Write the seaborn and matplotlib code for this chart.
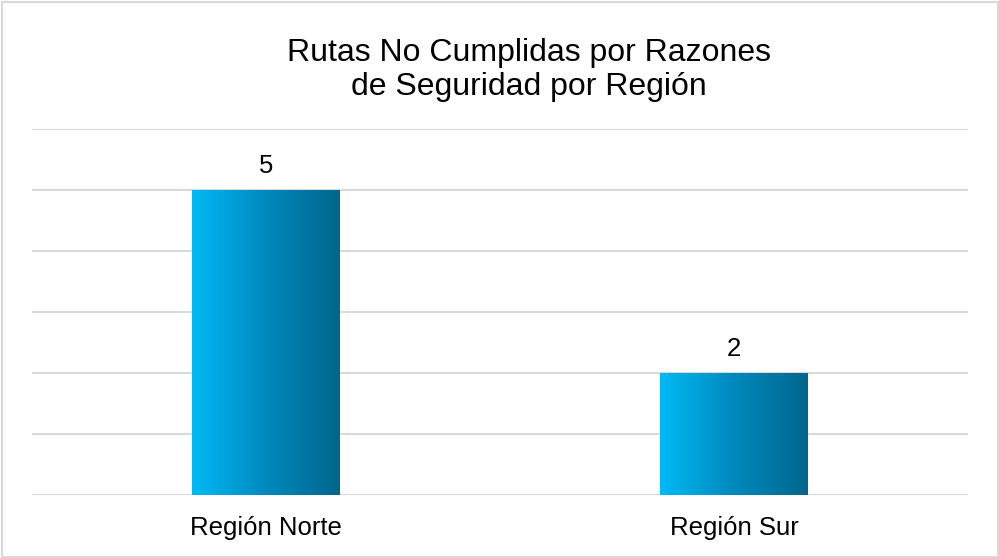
import matplotlib
matplotlib.use("Agg")
import matplotlib.pyplot as plt
import matplotlib.colors as mcolors
from matplotlib.patches import Rectangle
import seaborn as sns
import numpy as np
import pandas as pd

# -----------------------------------
# Data
# -----------------------------------
regiones = ["Región Norte", "Región Sur"]
rutas = [5, 2]
titulo = "Rutas No Cumplidas por Razones\nde Seguridad por Región"

df = pd.DataFrame({"region": regiones, "rutas": rutas})

# -----------------------------------
# Figure
# -----------------------------------
sns.set_style("white")
plt.rcParams["font.family"] = ["Liberation Sans", "DejaVu Sans"]
plt.rcParams["text.color"] = "#000000"

fig = plt.figure(figsize=(9.99, 5.58), dpi=100)
ax = fig.add_axes([32 / 999, 63 / 558, 936 / 999, 366 / 558])

sns.barplot(data=df, x="region", y="rutas", width=0.316, color="#0099CC", ax=ax)

# gradient fill for each bar
cmap = mcolors.LinearSegmentedColormap.from_list("grad", ["#00BAF5", "#0089BE", "#00668C"])
grad = np.linspace(0, 1, 256).reshape(1, -1)
for bar in ax.patches:
    x0, y0 = bar.get_x(), bar.get_y()
    w, h = bar.get_width(), bar.get_height()
    bar.set_facecolor("none")
    bar.set_edgecolor("none")
    im = ax.imshow(grad, cmap=cmap, aspect="auto", extent=[x0, x0 + w, y0, y0 + h], zorder=3)
    im.set_clip_path(bar)
    ax.text(x0 + w / 2, y0 + h + 0.39, f"{h:.0f}", ha="center", va="center", fontsize=18.5, color="#000000")

ax.set_xlim(-0.5, 1.5)
ax.set_ylim(0, 6)
ax.set_yticks(range(0, 7))
ax.yaxis.grid(True, color="#D9D9D9", linewidth=1.5)
ax.set_axisbelow(True)
ax.set_yticklabels([])
ax.tick_params(axis="y", length=0)
ax.tick_params(axis="x", length=0, labelsize=18.5, pad=15, colors="#000000")
ax.set_xlabel("")
ax.set_ylabel("")
for s in ["left", "right", "top", "bottom"]:
    ax.spines[s].set_visible(False)

fig.text(529 / 999, 1 - 70 / 558, titulo, ha="center", va="center", fontsize=23, linespacing=1.15,
         color="#000000", multialignment="center")

# chart border
fig.patches.append(Rectangle((1.5 / 999, 1.5 / 558), 996 / 999, 555 / 558, transform=fig.transFigure,
                             fill=False, edgecolor="#D9D9D9", linewidth=1.5))

fig.savefig("out.png", dpi=100)
